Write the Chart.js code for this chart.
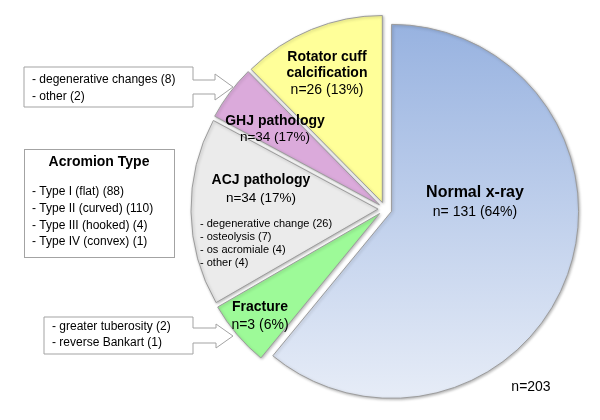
<!DOCTYPE html>
<html>
<head>
<meta charset="utf-8">
<script src="https://cdn.jsdelivr.net/npm/chart.js@4"></script>
<style>
  html, body { margin: 0; padding: 0; background: #fff; }
  canvas { display: block; }
</style>
</head>
<body>
<canvas id="chart" width="600" height="420"></canvas>
<script>
// slices, clockwise from 12 o'clock
const sliceNames = ['Normal x-ray', 'Fracture', 'ACJ pathology', 'GHJ pathology', 'Rotator cuff calcification'];
// share of the circle each slice takes in the picture
const sliceShares = [64, 6, 17, 5, 13];
const sliceCounts = ['n= 131 (64%)', 'n=3 (6%)', 'n=34 (17%)', 'n=34 (17%)', 'n=26 (13%)'];
const sliceColors = ['#98b3e1', '#9dfa98', '#ebebeb', '#dbaadb', '#ffff99'];

const ghjDetails = ['- degenerative changes (8)', '- other (2)'];
const acjDetails = ['- degenerative change (26)', '- osteolysis (7)', '- os acromiale (4)', '- other (4)'];
const fractureDetails = ['- greater tuberosity (2)', '- reverse Bankart (1)'];
const acromionTitle = 'Acromion Type';
const acromionTypes = ['- Type I (flat) (88)', '- Type II (curved) (110)', '- Type III (hooked) (4)', '- Type IV (convex) (1)'];
const totalLabel = 'n=203';

const FONT = '"Liberation Sans", Arial, sans-serif';
const RADIUS = 187;
const EXPLODE = 7; // every slice is pulled out from the centre by this much

function blueFill(c) {
  if (c.dataIndex !== 0) return sliceColors[c.dataIndex];
  const { ctx, chartArea } = c.chart;
  if (!chartArea) return sliceColors[0];
  const cy = (chartArea.top + chartArea.bottom) / 2;
  const g = ctx.createLinearGradient(0, cy - RADIUS, 0, cy + RADIUS);
  g.addColorStop(0, '#97b2e0');
  g.addColorStop(1, '#e6ecf7');
  return g;
}

// box with a block arrow pointing right
function callout(ctx, b) {
  ctx.beginPath();
  ctx.moveTo(b.x0, b.y0);
  ctx.lineTo(b.x1, b.y0);
  ctx.lineTo(b.x1, b.s0);
  ctx.lineTo(b.hx, b.s0);
  ctx.lineTo(b.hx, b.h0);
  ctx.lineTo(b.tx, b.ty);
  ctx.lineTo(b.hx, b.h1);
  ctx.lineTo(b.hx, b.s1);
  ctx.lineTo(b.x1, b.s1);
  ctx.lineTo(b.x1, b.y1);
  ctx.lineTo(b.x0, b.y1);
  ctx.closePath();
  ctx.fillStyle = '#fff';
  ctx.fill();
  ctx.strokeStyle = '#a3a3a3';
  ctx.lineWidth = 1;
  ctx.stroke();
}

function lines(ctx, list, x, y, step, font, align) {
  ctx.font = font;
  ctx.textAlign = align || 'left';
  list.forEach((s, i) => ctx.fillText(s, x, y + i * step));
}

function pieCentre(chart) {
  const a = chart.chartArea;
  return { cx: (a.left + a.right) / 2, cy: (a.top + a.bottom) / 2 };
}

// exploded pie: move each arc out along its own middle angle
const explodePlugin = {
  id: 'explode',
  beforeDatasetsDraw(chart) {
    const { cx, cy } = pieCentre(chart);
    chart.getDatasetMeta(0).data.forEach(arc => {
      const mid = (arc.startAngle + arc.endAngle) / 2;
      arc.x = cx + Math.cos(mid) * EXPLODE;
      arc.y = cy + Math.sin(mid) * EXPLODE;
    });
  }
};

const shadowPlugin = {
  id: 'sliceShadow',
  beforeDatasetsDraw(chart) {
    const c = chart.ctx;
    c.save();
    c.shadowColor = 'rgba(0,0,0,0.28)';
    c.shadowBlur = 3;
    c.shadowOffsetX = 1;
    c.shadowOffsetY = 1;
  },
  afterDatasetsDraw(chart) {
    chart.ctx.restore();
  }
};

const textPlugin = {
  id: 'sliceText',
  afterDraw(chart) {
    const ctx = chart.ctx;
    const { cx, cy } = pieCentre(chart);
    ctx.save();
    ctx.fillStyle = '#000';
    ctx.textBaseline = 'middle';

    // slice labels
    const bold = s => `bold ${s}px ${FONT}`;
    const norm = s => `${s}px ${FONT}`;
    lines(ctx, ['Normal x-ray'], cx + 90, cy - 16, 0, bold(16), 'center');
    lines(ctx, [sliceCounts[0]], cx + 90, cy + 3, 0, norm(14), 'center');

    lines(ctx, ['Rotator cuff', 'calcification'], cx - 58, cy - 152, 16, bold(14), 'center');
    lines(ctx, [sliceCounts[4]], cx - 58, cy - 119, 0, norm(14), 'center');

    lines(ctx, ['GHJ pathology'], cx - 110, cy - 88, 0, bold(14), 'center');
    lines(ctx, [sliceCounts[3]], cx - 110, cy - 72, 0, norm(13.5), 'center');

    lines(ctx, ['ACJ pathology'], cx - 124, cy - 29, 0, bold(14), 'center');
    lines(ctx, [sliceCounts[2]], cx - 124, cy - 11, 0, norm(13.5), 'center');
    lines(ctx, acjDetails, cx - 185, cy + 15, 13, norm(11));

    lines(ctx, ['Fracture'], cx - 125, cy + 98, 0, bold(14), 'center');
    lines(ctx, [sliceCounts[1]], cx - 125, cy + 116, 0, norm(14), 'center');

    lines(ctx, [totalLabel], cx + 146, cy + 178, 0, norm(14), 'center');

    // callout boxes
    callout(ctx, { x0: 24, y0: 67, x1: 193, y1: 107, s0: 80, s1: 94, hx: 215, h0: 74, h1: 100, tx: 233, ty: 87 });
    callout(ctx, { x0: 44, y0: 317, x1: 193, y1: 354, s0: 328, s1: 343, hx: 216, h0: 324, h1: 348, tx: 233, ty: 336 });
    ctx.fillStyle = '#000';
    lines(ctx, ghjDetails, 32, 80, 17, norm(12));
    lines(ctx, fractureDetails, 52, 327, 16, norm(12));

    // acromion box
    ctx.strokeStyle = '#a3a3a3';
    ctx.lineWidth = 1;
    ctx.strokeRect(24.5, 149.5, 150, 108);
    lines(ctx, [acromionTitle], 99, 162, 0, bold(14), 'center');
    lines(ctx, acromionTypes, 32, 192, 16.7, norm(12));
    ctx.restore();
  }
};

new Chart(document.getElementById('chart'), {
  type: 'pie',
  data: {
    labels: sliceNames,
    datasets: [{
      data: sliceShares,
      backgroundColor: blueFill,
      borderColor: '#9c9c9c',
      borderWidth: 1
    }]
  },
  options: {
    responsive: false,
    animation: false,
    events: [],
    radius: RADIUS,
    layout: { padding: { left: 180, right: 10, top: 0, bottom: 2 } },
    plugins: {
      legend: { display: false },
      tooltip: { enabled: false }
    }
  },
  plugins: [explodePlugin, shadowPlugin, textPlugin]
});
</script>
</body>
</html>
